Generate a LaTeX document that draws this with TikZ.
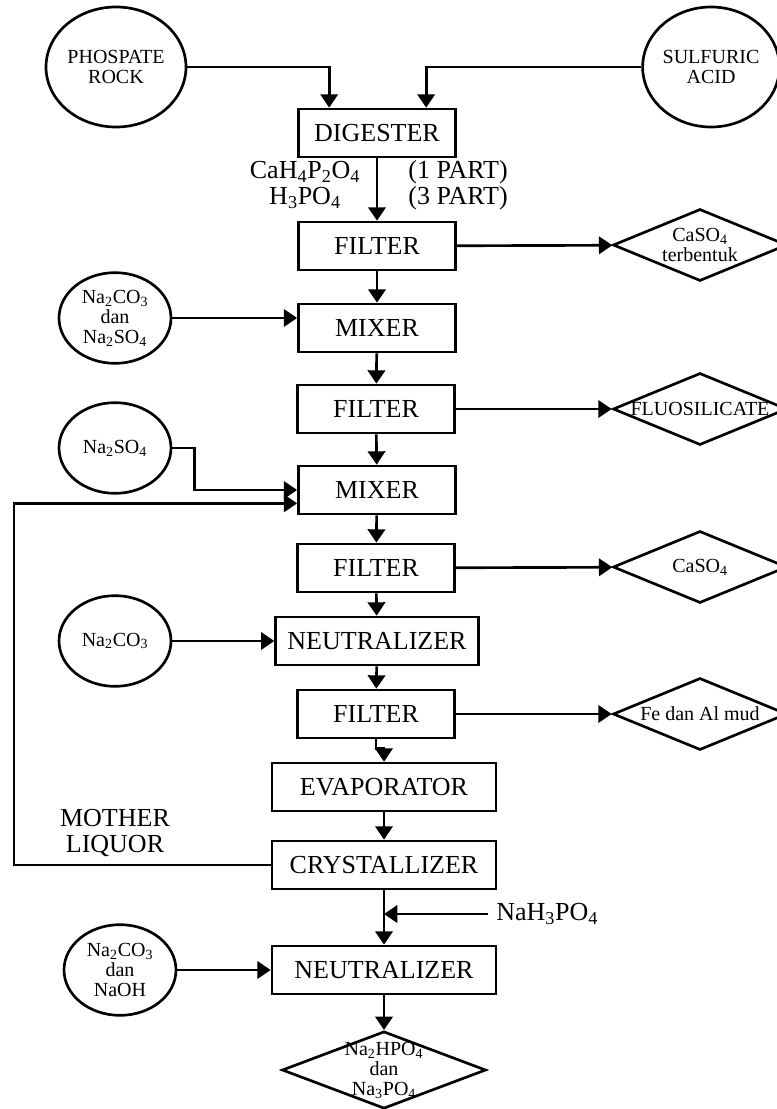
\documentclass[tikz,border=0pt]{standalone}
\usepackage{fontspec}
\setmainfont{Liberation Serif}
\usepackage{tikz}
\usetikzlibrary{arrows.meta}
\usetikzlibrary{shapes}
\newcommand{\unitfont}{\fontsize{19.5}{19.5}\selectfont}
\newcommand{\feedfont}{\fontsize{15}{15}\selectfont}

\begin{document}
\begin{tikzpicture}[x=0.75pt, y=-0.75pt]
   \tikzset{Unit/.style={draw, line width=2pt, minimum width=117.75pt, minimum height=36pt, font=\unitfont}}
   \tikzset{Feed/.style={ellipse, draw, line width=2pt, inner sep=0pt, align=center, font=\feedfont, minimum width=84pt, minimum height=68pt}}
   \tikzset{Waste/.style={diamond, draw, line width=2pt, inner sep=0pt, minimum width=130.5pt, minimum height=54pt}}
   \tikzset{every label/.style={font=\feedfont, align=center}}
   \tikzset{Flow/.style={line width=2pt, -{Triangle[length=10pt, width=13pt]}}}
   \useasboundingbox (0,0) rectangle (777,1109);
   % main line
   \node[Unit] (dig) at (377,133) {DIGESTER};
   \node[Unit] (fil1) at (377,246) {FILTER};
   \node[Unit] (mix1) at (377,328) {MIXER};
   \node[Unit] (fil2) at (376,409) {FILTER};
   \node[Unit] (mix2) at (377,490) {MIXER};
   \node[Unit] (fil3) at (376,568) {FILTER};
   \node[Unit, minimum width=152pt] (neu1) at (377,641) {NEUTRALIZER};
   \node[Unit] (fil4) at (376,714) {FILTER};
   \node[Unit, minimum width=168pt] (evap) at (384,787) {EVAPORATOR};
   \node[Unit, minimum width=168pt] (cryst) at (384,865) {CRYSTALLIZER};
   \node[Unit, minimum width=168pt] (neu2) at (384,970) {NEUTRALIZER};
   % feeds
   \node[Feed, minimum width=105pt, minimum height=90pt] (rock) at (116,67) {PHOSPATE\\ROCK};
   \node[Feed, minimum width=99pt, minimum height=90pt] (acid) at (711,67) {SULFURIC\\ACID};
   \node[Feed] (feed1) at (115,318) {Na\textsubscript{2}CO\textsubscript{3}\\dan\\Na\textsubscript{2}SO\textsubscript{4}};
   \node[Feed] (feed2) at (115,448) {Na\textsubscript{2}SO\textsubscript{4}};
   \node[Feed] (feed3) at (115,641) {Na\textsubscript{2}CO\textsubscript{3}};
   \node[Feed] (feed4) at (120,970) {Na\textsubscript{2}CO\textsubscript{3}\\dan\\NaOH};
   % products
   \node[Waste, label=center:{CaSO\textsubscript{4}\\terbentuk}] (out1) at (700,245) {};
   \node[Waste, label=center:{FLUOSILICATE}] (out2) at (700,409) {};
   \node[Waste, label=center:{CaSO\textsubscript{4}}] (out3) at (700,567) {};
   \node[Waste, label=center:{Fe dan Al mud}] (out4) at (700,714) {};
   \node[Waste, minimum width=153pt, minimum height=58pt,
         label=center:{Na\textsubscript{2}HPO\textsubscript{4}\\dan\\Na\textsubscript{3}PO\textsubscript{4}}] (prod) at (384,1070) {};
   % texts
   \node[font=\unitfont, align=center] (comp) at (305,185) {CaH\textsubscript{4}P\textsubscript{2}O\textsubscript{4}\\H\textsubscript{3}PO\textsubscript{4}};
   \node[font=\unitfont, align=center] (part) at (458,185) {(1 PART)\\(3 PART)};
   \node[font=\unitfont, align=center, text depth=0pt] (liquor) at (115,831) {MOTHER\\LIQUOR};
   \node[font=\unitfont, anchor=west, inner sep=6pt] (nah) at (488,914) {NaH\textsubscript{3}PO\textsubscript{4}};
   \coordinate (ret) at (14,865);
   % streams
   \draw[Flow] (rock.east) -| ([xshift=24pt]dig.north west);
   \draw[Flow] (acid.west) -| ([xshift=-23pt]dig.north east);
   \draw[Flow] (dig) -- (fil1);
   \draw[Flow] (fil1) -- (out1);
   \draw[Flow] (fil1) -- (mix1);
   \draw[Flow] (feed1.east) -- (feed1.east -| mix1.west);
   \draw[Flow] (mix1) -- (fil2);
   \draw[Flow] (fil2) -- (out2);
   \draw[Flow] (fil2) -- (mix2);
   \draw[Flow] (feed2.east) -- ++(22,0) |- (mix2.west);
   \draw[Flow] (cryst.west) -- (ret) |- ([yshift=-10pt]mix2.west);
   \draw[Flow] (mix2) -- (fil3);
   \draw[Flow] (fil3) -- (out3);
   \draw[Flow] (fil3) -- (neu1);
   \draw[Flow] (feed3) -- (neu1);
   \draw[Flow] (neu1) -- (fil4);
   \draw[Flow] (fil4) -- (out4);
   \draw[Flow] (fil4.south) -- ++(0,9) -| (evap.north);
   \draw[Flow] (evap) -- (cryst);
   \draw[Flow] (cryst) -- (neu2);
   \draw[Flow] (nah.west) -- (nah.west -| cryst.south);
   \draw[Flow] (feed4) -- (neu2);
   \draw[Flow] (neu2) -- (prod);
\end{tikzpicture}
\end{document}
